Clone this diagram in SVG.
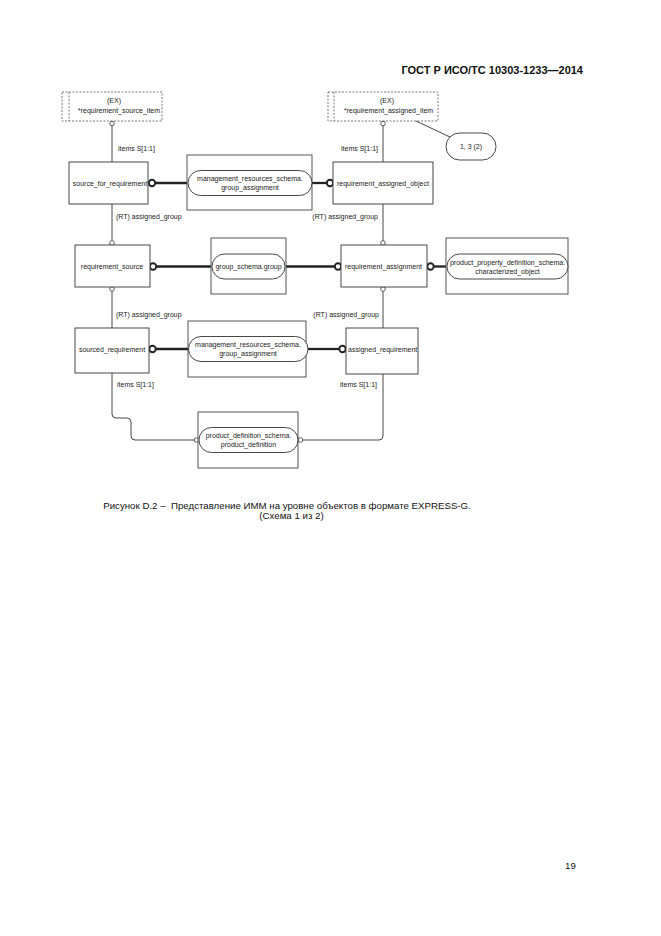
<svg xmlns="http://www.w3.org/2000/svg" width="661" height="936" viewBox="0 0 661 936">
<style>
.bg{fill:#ffffff}
.box{fill:#ffffff;stroke:#333;stroke-width:0.9}
.ex{fill:none;stroke:#555;stroke-width:0.8;stroke-dasharray:2,1.5}
.cont{fill:#ffffff;stroke:#444;stroke-width:0.9}
.pill{fill:#ffffff;stroke:#333;stroke-width:0.9}
.t{font-family:"Liberation Sans",Arial,sans-serif;font-size:7px;fill:#222}
.c{text-anchor:middle}
.e{text-anchor:end}
.thin{fill:none;stroke:#333;stroke-width:0.9}
.thick{fill:none;stroke:#222;stroke-width:2.3}
.oc{fill:#ffffff;stroke:#333;stroke-width:0.8}
.tc{fill:#ffffff;stroke:#222;stroke-width:1.9}
.hdr{font-family:"Liberation Sans",Arial,sans-serif;font-size:11px;font-weight:bold;fill:#111}
.cap{font-family:"Liberation Sans",Arial,sans-serif;font-size:9.7px;fill:#111;white-space:pre}
</style>
<rect class="bg" x="0" y="0" width="661" height="936"/>
<text class="hdr e" x="583" y="74">ГОСТ Р ИСО/ТС 10303-1233—2014</text>

<g id="connectors">
  <line class="thin" x1="112" y1="125.8" x2="112" y2="162"/>
  <line class="thin" x1="112" y1="204" x2="112" y2="240.7"/>
  <line class="thin" x1="112" y1="291.3" x2="112" y2="328"/>
  <path class="thin" d="M112,373 V414 Q112,418 116,418 H127 Q131,418 131,422 V436 Q131,440 135,440 H194.2"/>
  <line class="thin" x1="383" y1="125.8" x2="383" y2="162"/>
  <line class="thin" x1="383" y1="204" x2="383" y2="240.7"/>
  <line class="thin" x1="383" y1="291.3" x2="383" y2="328"/>
  <path class="thin" d="M302.8,440 H379 Q383,440 383,436 V374"/>
  <line class="thin" x1="416" y1="121" x2="450" y2="137"/>
  <line class="thick" x1="155.2" y1="183" x2="188" y2="183"/>
  <line class="thick" x1="312" y1="183" x2="327" y2="183"/>
  <line class="thick" x1="156.2" y1="266.5" x2="212" y2="266.5"/>
  <line class="thick" x1="285" y1="266.5" x2="334.8" y2="266.5"/>
  <line class="thick" x1="433.7" y1="266.5" x2="447" y2="266.5"/>
  <line class="thick" x1="155.7" y1="349" x2="188" y2="349"/>
  <line class="thick" x1="308" y1="349" x2="339.3" y2="349"/>
  <circle class="oc" cx="112" cy="123.5" r="2.3"/>
  <circle class="oc" cx="383" cy="123.5" r="2.3"/>
  <circle class="oc" cx="112" cy="243" r="2.3"/>
  <circle class="oc" cx="112" cy="289" r="2.3"/>
  <circle class="oc" cx="383" cy="243" r="2.3"/>
  <circle class="oc" cx="383" cy="289" r="2.3"/>
  <circle class="oc" cx="196.5" cy="440" r="2.3"/>
  <circle class="oc" cx="300.5" cy="440" r="2.3"/>
  <circle class="tc" cx="152" cy="183" r="3.2"/>
  <circle class="tc" cx="330" cy="183" r="3.2"/>
  <circle class="tc" cx="153" cy="266.5" r="3.2"/>
  <circle class="tc" cx="338" cy="266.5" r="3.2"/>
  <circle class="tc" cx="430.5" cy="266.5" r="3.2"/>
  <circle class="tc" cx="152.5" cy="349" r="3.2"/>
  <circle class="tc" cx="342.5" cy="349" r="3.2"/>
  <text class="t" x="118" y="151">items S[1:1]</text>
  <text class="t e" x="378" y="151">items S[1:1]</text>
  <text class="t" x="116" y="219">(RT) assigned_group</text>
  <text class="t e" x="378" y="219">(RT) assigned_group</text>
  <text class="t" x="116" y="317">(RT) assigned_group</text>
  <text class="t e" x="379" y="317">(RT) assigned_group</text>
  <text class="t" x="117" y="387">items S[1:1]</text>
  <text class="t e" x="377" y="387">items S[1:1]</text>
</g>

<g id="requirement_source_item">
  <rect class="ex" x="62" y="92" width="100" height="29"/>
  <line class="ex" x1="69" y1="92" x2="69" y2="121"/>
  <text class="t c" x="114" y="103">(EX)</text>
  <text class="t" x="78" y="113">*requirement_source_item</text>
</g>

<g id="requirement_assigned_item">
  <rect class="ex" x="328" y="92" width="110" height="29"/>
  <line class="ex" x1="334" y1="92" x2="334" y2="121"/>
  <text class="t c" x="387" y="103">(EX)</text>
  <text class="t" x="344" y="113">*requirement_assigned_item</text>
</g>

<g id="page_ref_1_3_2">
  <rect class="pill" x="446" y="133" width="50" height="27" rx="13.5"/>
  <text class="t c" x="471" y="149">1, 3 (2)</text>
</g>

<g id="source_for_requirement">
  <rect class="box" x="69" y="162" width="79" height="42"/>
  <text class="t c" x="110" y="185.5">source_for_requirement</text>
</g>

<g id="mgmt_group_assignment_1">
  <rect class="cont" x="187" y="155" width="125" height="55"/>
  <rect class="pill" x="188" y="170.5" width="124" height="25" rx="12.5"/>
  <text class="t c" x="250" y="181">management_resources_schema.</text>
  <text class="t c" x="250" y="190">group_assignment</text>
</g>

<g id="requirement_assigned_object">
  <rect class="box" x="333" y="162" width="100" height="42"/>
  <text class="t" x="337" y="185.5">requirement_assigned_object</text>
</g>

<g id="requirement_source">
  <rect class="box" x="75" y="245" width="75" height="42"/>
  <text class="t c" x="112" y="269">requirement_source</text>
</g>

<g id="group_schema_group">
  <rect class="cont" x="211" y="238" width="75" height="56"/>
  <rect class="pill" x="212" y="254" width="73" height="25" rx="12.5"/>
  <text class="t c" x="248.5" y="269">group_schema.group</text>
</g>

<g id="requirement_assignment">
  <rect class="box" x="341" y="245" width="86" height="42"/>
  <text class="t c" x="383.5" y="269">requirement_assignment</text>
</g>

<g id="characterized_object">
  <rect class="cont" x="446" y="238" width="122" height="56"/>
  <rect class="pill" x="447" y="254" width="121" height="25" rx="12.5"/>
  <text class="t c" x="507.5" y="264.5">product_property_definition_schema.</text>
  <text class="t c" x="507.5" y="273.5">characterized_object</text>
</g>

<g id="sourced_requirement">
  <rect class="box" x="75" y="328" width="74" height="45"/>
  <text class="t c" x="112" y="351.5">sourced_requirement</text>
</g>

<g id="mgmt_group_assignment_2">
  <rect class="cont" x="188" y="321" width="118" height="56"/>
  <rect class="pill" x="188.5" y="336.5" width="119.5" height="25" rx="12.5"/>
  <text class="t c" x="248" y="347">management_resources_schema.</text>
  <text class="t c" x="248" y="356">group_assignment</text>
</g>

<g id="assigned_requirement">
  <rect class="box" x="346" y="328" width="72" height="46"/>
  <text class="t" x="348" y="351.5">assigned_requirement</text>
</g>

<g id="product_definition">
  <rect class="cont" x="198" y="412" width="100" height="56"/>
  <rect class="pill" x="199" y="427.5" width="99" height="25" rx="12.5"/>
  <text class="t c" x="248.5" y="438">product_definition_schema.</text>
  <text class="t c" x="248.5" y="447">product_definition</text>
</g>

<text class="cap c" x="287" y="509" xml:space="preserve">Рисунок D.2 –  Представление ИММ на уровне объектов в формате EXPRESS-G.</text>
<text class="cap c" x="291.5" y="519">(Схема 1 из 2)</text>
<text class="cap" x="565" y="869">19</text>
</svg>
